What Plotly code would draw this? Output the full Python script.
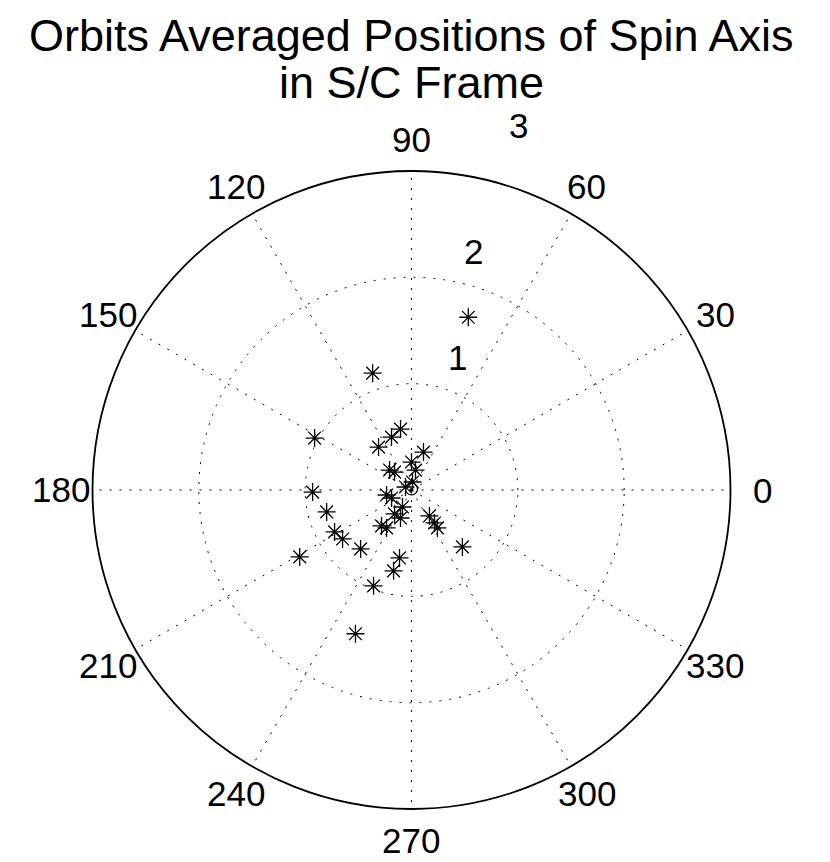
import math
import plotly.graph_objects as go

# ---- data ----
title_lines = ["Orbits Averaged Positions of Spin Axis", "in S/C Frame"]

# orbit-averaged spin-axis positions (theta in degrees, r)
theta_deg = [71.8, 108.4, 151.8, 100.2, 110.7, 127.5, 72.5, 90.0, 137.7, 133.4,
             78.7, 82.9, 153.4, 181.2, 191.3, 201.8, 242.1, 234.7, 248.6, 230.2,
             236.7, 304.7, 304.9, 304.4, 194.5, 208.6, 215.4, 229.2, 311.8, 210.9,
             260.0, 257.5, 248.4, 248.7]
r_vals = [1.710, 1.158, 1.034, 0.582, 0.532, 0.509, 0.374, 0.263, 0.279, 0.232,
          0.191, 0.076, 0.063, 0.930, 0.239, 0.202, 0.181, 0.276, 0.283, 0.440,
          0.427, 0.297, 0.378, 0.432, 0.824, 0.824, 0.795, 0.732, 0.718, 1.225,
          0.649, 0.779, 0.969, 1.451]

# reference (circle) marker near the origin
ref_theta = [90.0]
ref_r = [0.01]

# axis ticks / labels
angle_ticks = [0, 30, 60, 90, 120, 150, 180, 210, 240, 270, 300, 330]
angle_tick_labels = [str(a) for a in angle_ticks]
angle_label_r = 3.3
radial_ticks = [1, 2, 3]
radial_tick_labels = ["1", "2", "3"]
radial_label_r = [1.321, 2.318, 3.57]
radial_label_theta = [70.9, 75.5, 73.7]
r_max = 3

FONT = "Liberation Sans, Arial, Helvetica, sans-serif"

# figure geometry (page body has an 8px default margin)
W, H = 822, 854
L, R, T, B = 84, 99, 163, 53
PW, PH = W - L - R, H - T - B
RAD_PX = min(PW, PH) / 2.0


def polar_to_paper(r, th):
    d = r / r_max * RAD_PX
    x = 0.5 + d * math.cos(math.radians(th)) / PW
    y = 0.5 + d * math.sin(math.radians(th)) / PH
    return x, y


def px_to_paper_y(py):
    return (H - B - py) / PH


fig = go.Figure()

fig.add_trace(go.Scatterpolar(
    r=r_vals, theta=theta_deg, mode="markers",
    marker=dict(symbol="asterisk-open", size=15, color="black",
                line=dict(color="black", width=1.3)),
    showlegend=False, hoverinfo="r+theta"))

fig.add_trace(go.Scatterpolar(
    r=ref_r, theta=ref_theta, mode="markers",
    marker=dict(symbol="circle-open", size=12, color="black",
                line=dict(color="black", width=1.2)),
    showlegend=False))

annotations = []
for a, lab in zip(angle_ticks, angle_tick_labels):
    x, y = polar_to_paper(angle_label_r, a)
    annotations.append(dict(x=x, y=y, xref="paper", yref="paper", text=lab,
                            showarrow=False, xanchor="center", yanchor="middle",
                            font=dict(family=FONT, size=35, color="black")))
for rr, th, lab in zip(radial_label_r, radial_label_theta, radial_tick_labels):
    x, y = polar_to_paper(rr, th)
    annotations.append(dict(x=x, y=y, xref="paper", yref="paper", text=lab,
                            showarrow=False, xanchor="center", yanchor="middle",
                            font=dict(family=FONT, size=35, color="black")))
for line, py in zip(title_lines, [28, 74]):
    annotations.append(dict(x=0.5, y=px_to_paper_y(py), xref="paper", yref="paper",
                            text=line, showarrow=False, xanchor="center",
                            yanchor="middle",
                            font=dict(family=FONT, size=45, color="black")))

fig.update_layout(
    width=W, height=H,
    paper_bgcolor="white",
    margin=dict(l=L, r=R, t=T, b=B),
    annotations=annotations,
    polar=dict(
        bgcolor="white",
        radialaxis=dict(range=[0, r_max], tickvals=radial_ticks,
                        showticklabels=False, ticks="", showline=False,
                        showgrid=True, gridcolor="black", gridwidth=1.2,
                        griddash="2px,8px"),
        angularaxis=dict(tickvals=angle_ticks, showticklabels=False, ticks="",
                         direction="counterclockwise", rotation=0,
                         showline=True, linecolor="black", linewidth=1.8,
                         showgrid=True, gridcolor="black", gridwidth=1.2,
                         griddash="2px,8px"),
    ),
)

fig.write_html("out.html")
